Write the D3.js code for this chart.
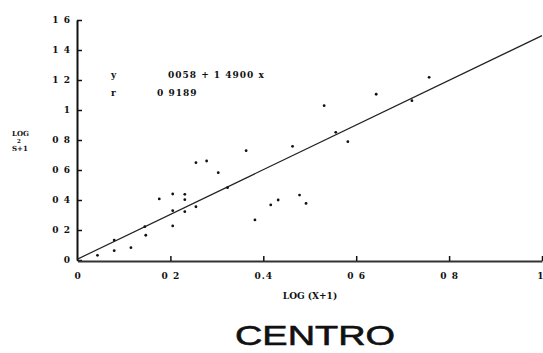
<!DOCTYPE html>
<html>
<head>
<meta charset="utf-8">
<script src="https://cdn.jsdelivr.net/npm/d3@7"></script>
<style>
  html, body { margin: 0; padding: 0; background: #fff; }
  svg { display: block; }
  .tick text { font-family: "DejaVu Serif", serif; font-weight: bold; font-size: 9px; fill: #111; }
</style>
</head>
<body>
<svg id="chart" width="543" height="353"></svg>
<script>
// ---- data ----
const xValues = [0.043, 0.079, 0.079, 0.115, 0.145, 0.147, 0.176, 0.205, 0.205, 0.205,
                 0.231, 0.231, 0.231, 0.255, 0.255, 0.278, 0.303, 0.323, 0.363, 0.382,
                 0.416, 0.432, 0.463, 0.478, 0.492, 0.531, 0.556, 0.582, 0.643, 0.720, 0.757];
const yValues = [0.031, 0.133, 0.062, 0.082, 0.222, 0.165, 0.407, 0.440, 0.329, 0.227,
                 0.438, 0.402, 0.322, 0.649, 0.355, 0.660, 0.582, 0.482, 0.729, 0.267,
                 0.367, 0.400, 0.758, 0.433, 0.377, 1.029, 0.851, 0.789, 1.105, 1.062, 1.218];
const intercept = 0.0058;
const slope = 1.49;
const xTickValues = [0, 0.2, 0.4, 0.6, 0.8, 1];
const xTickLabels = ["0", "0 2", "0.4", "0 6", "0 8", "1"];
const yTickValues = [0, 0.2, 0.4, 0.6, 0.8, 1, 1.2, 1.4, 1.6];
const yTickLabels = ["0", "0 2", "0 4", "0 6", "0 8", "1", "1 2", "1 4", "1 6"];
const equationLines = [["y", "0058 + 1 4900 x"], ["r", "0 9189"]];
const yTitleLines = ["LOG", "2", "S+1"];
const xTitle = "LOG (X+1)";
const chartTitle = "CENTRO";

// ---- drawing ----
const svg = d3.select("#chart");
const x = d3.scaleLinear().domain([0, 1]).range([77.5, 542]);
const y = d3.scaleLinear().domain([0, 1.6]).range([260, 20]);

// y axis
const yAxis = d3.axisLeft(y)
  .tickValues(yTickValues)
  .tickFormat((d, i) => yTickLabels[i])
  .tickSizeInner(-5).tickSizeOuter(0).tickPadding(6);
const gy = svg.append("g").attr("transform", `translate(${x(0) - 0.5},0)`).call(yAxis);
gy.select(".domain").attr("stroke", "#111").attr("stroke-width", 2);
gy.selectAll(".tick line").attr("stroke", "#111").attr("stroke-width", 1.5);
gy.selectAll(".tick text").attr("letter-spacing", "1px");

// x axis
const xAxis = d3.axisBottom(x)
  .tickValues(xTickValues)
  .tickFormat((d, i) => xTickLabels[i])
  .tickSizeInner(-5).tickSizeOuter(0).tickPadding(12);
const gx = svg.append("g").attr("transform", `translate(0,${y(0) + 1})`).call(xAxis);
gx.select(".domain").attr("stroke", "#333").attr("stroke-width", 2);
gx.selectAll(".tick line").attr("stroke", "#111").attr("stroke-width", 1.5);
gx.selectAll(".tick").filter(d => d === 0).select("line").remove();
gx.selectAll(".tick text").attr("letter-spacing", "1px");
gx.selectAll(".tick").filter(d => d === 1).select("text")
  .attr("text-anchor", "end").attr("dx", "2");

// regression line
svg.append("line")
  .attr("x1", x(0)).attr("y1", y(intercept))
  .attr("x2", x(1)).attr("y2", y(intercept + slope * 1))
  .attr("stroke", "#222").attr("stroke-width", 1.2);

// points
svg.append("g").selectAll("circle")
  .data(xValues.map((v, i) => [v, yValues[i]]))
  .join("circle")
  .attr("cx", d => x(d[0])).attr("cy", d => y(d[1]))
  .attr("r", 1.4)
  .attr("fill", "#111");

// equation
const eq = svg.append("g")
  .attr("font-family", "DejaVu Serif, serif")
  .attr("font-weight", "bold").attr("font-size", 9).attr("fill", "#111");
equationLines.forEach((row, i) => {
  eq.append("text").attr("x", 111).attr("y", 78 + i * 18).text(row[0]);
  eq.append("text").attr("x", i === 0 ? 168 : 157).attr("y", 78 + i * 18)
    .attr("letter-spacing", "1px").text(row[1]);
});

// y axis title
const yt = svg.append("g")
  .attr("font-family", "DejaVu Serif, serif")
  .attr("font-weight", "bold").attr("fill", "#111");
yt.append("text").attr("x", 12).attr("y", 136).attr("font-size", 7).text(yTitleLines[0]);
yt.append("text").attr("x", 17).attr("y", 143).attr("font-size", 5.5).text(yTitleLines[1]);
yt.append("text").attr("x", 12).attr("y", 151).attr("font-size", 7).text(yTitleLines[2]);

// x axis title
svg.append("text")
  .attr("x", 310).attr("y", 299).attr("text-anchor", "middle")
  .attr("font-family", "DejaVu Serif, serif").attr("font-weight", "bold")
  .attr("font-size", 9).attr("fill", "#111")
  .text(xTitle);

// chart title
svg.append("text")
  .attr("x", 235).attr("y", 345)
  .attr("textLength", 160).attr("lengthAdjust", "spacingAndGlyphs")
  .attr("font-family", "Liberation Sans, Arial, sans-serif")
  .attr("font-size", 28).attr("fill", "#111")
  .attr("stroke", "#111").attr("stroke-width", 0.6)
  .text(chartTitle);
</script>
</body>
</html>
